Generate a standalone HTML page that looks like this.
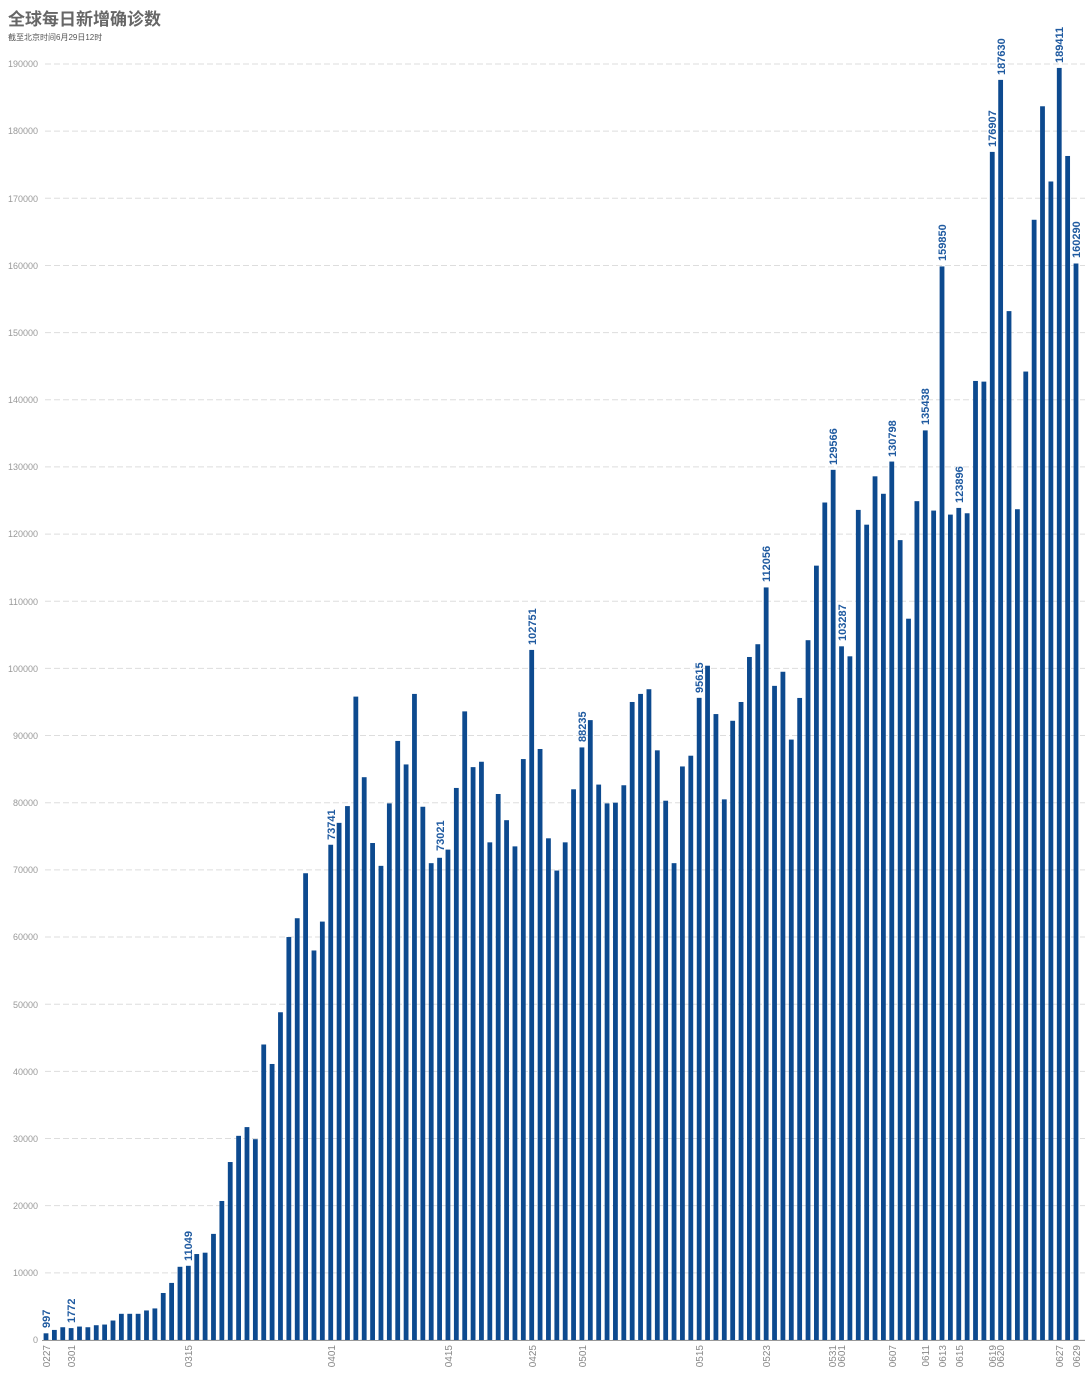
<!DOCTYPE html>
<html><head><meta charset="utf-8"><style>
body{margin:0;background:#fff;width:1090px;height:1389px;overflow:hidden;}
svg{display:block;font-family:"Liberation Sans","Noto Sans CJK SC",sans-serif;}
</style></head><body>
<svg id="c" width="1090" height="1389" xmlns="http://www.w3.org/2000/svg">
<text x="8" y="25" font-size="17" font-weight="bold" fill="#666">全球每日新增确诊数</text>
<text x="8" y="40" font-size="8" fill="#555">截至北京时间6月29日12时</text>
<g id="grid" font-size="9" fill="#999" text-anchor="end">
<text x="38" y="1343">0</text><text x="38" y="1276">10000</text><text x="38" y="1209">20000</text><text x="38" y="1142">30000</text><text x="38" y="1075">40000</text><text x="38" y="1008">50000</text><text x="38" y="940">60000</text><text x="38" y="873">70000</text><text x="38" y="806">80000</text><text x="38" y="739">90000</text><text x="38" y="672">100000</text><text x="38" y="605">110000</text><text x="38" y="537">120000</text><text x="38" y="470">130000</text><text x="38" y="403">140000</text><text x="38" y="336">150000</text><text x="38" y="269">160000</text><text x="38" y="202">170000</text><text x="38" y="134">180000</text><text x="38" y="67">190000</text>
</g>
<g id="bars"></g>
<line x1="42" y1="1340.5" x2="1085" y2="1340.5" stroke="#999" stroke-width="1"/>
<g font-size="10" fill="#888" text-anchor="end">
<text transform="translate(50,1345) rotate(-90)">0227</text>
<text transform="translate(75,1345) rotate(-90)">0301</text>
<text transform="translate(192,1345) rotate(-90)">0315</text>
<text transform="translate(335,1345) rotate(-90)">0401</text>
<text transform="translate(452,1345) rotate(-90)">0415</text>
<text transform="translate(536,1345) rotate(-90)">0425</text>
<text transform="translate(586,1345) rotate(-90)">0501</text>
<text transform="translate(703,1345) rotate(-90)">0515</text>
<text transform="translate(770,1345) rotate(-90)">0523</text>
<text transform="translate(836,1345) rotate(-90)">0531</text>
<text transform="translate(845,1345) rotate(-90)">0601</text>
<text transform="translate(896,1345) rotate(-90)">0607</text>
<text transform="translate(929,1345) rotate(-90)">0611</text>
<text transform="translate(946,1345) rotate(-90)">0613</text>
<text transform="translate(963,1345) rotate(-90)">0615</text>
<text transform="translate(996,1345) rotate(-90)">0619</text>
<text transform="translate(1004,1345) rotate(-90)">0620</text>
<text transform="translate(1063,1345) rotate(-90)">0627</text>
<text transform="translate(1080,1345) rotate(-90)">0629</text>
</g>
<g font-size="11" fill="#1f5aa0" font-weight="bold">
<text transform="translate(50,1328) rotate(-90)">997</text>
<text transform="translate(75,1323) rotate(-90)">1772</text>
<text transform="translate(192,1261) rotate(-90)">11049</text>
<text transform="translate(335,840) rotate(-90)">73741</text>
<text transform="translate(444,851) rotate(-90)">73021</text>
<text transform="translate(536,645) rotate(-90)">102751</text>
<text transform="translate(586,742) rotate(-90)">88235</text>
<text transform="translate(703,693) rotate(-90)">95615</text>
<text transform="translate(770,582) rotate(-90)">112056</text>
<text transform="translate(837,465) rotate(-90)">129566</text>
<text transform="translate(846,641) rotate(-90)">103287</text>
<text transform="translate(896,457) rotate(-90)">130798</text>
<text transform="translate(929,425) rotate(-90)">135438</text>
<text transform="translate(946,261) rotate(-90)">159850</text>
<text transform="translate(963,503) rotate(-90)">123896</text>
<text transform="translate(996,147) rotate(-90)">176907</text>
<text transform="translate(1005,75) rotate(-90)">187630</text>
<text transform="translate(1063,63) rotate(-90)">189411</text>
<text transform="translate(1080,258) rotate(-90)">160290</text>
</g>
</svg>
<script>
var v=[997,1500,1900,1772,2000,1900,2200,2300,2900,3900,3900,3900,4400,4700,7000,8500,10900,11049,12800,13000,15800,20700,26500,30400,31700,29900,44000,41100,48800,60000,62800,69500,58000,62300,
73741,77000,79500,95800,83800,74000,70600,79900,89200,85700,96200,79400,71000,71800,73021,82200,93600,85300,86100,74100,81300,77400,73500,86500,102751,88000,74700,69900,74100,82000,
88235,92300,82700,79900,80000,82600,95000,96200,96900,87800,80300,71000,85400,87000,95615,100400,93200,80500,92200,95000,101700,103600,112056,97400,99500,89400,95600,104200,115300,124700,129566,
103287,101800,123600,121400,128600,126000,130798,119100,107400,124900,135438,123500,159850,122900,123896,123100,142800,142700,176907,187630,153200,123700,144200,166800,183700,172500,189411,176300,160290];
var ns="http://www.w3.org/2000/svg",g=document.getElementById('bars'),s=0.006716;
for(var k=0;k<=19;k++){var l=document.createElementNS(ns,'line');var y=1340-k*10000*s;
l.setAttribute('x1',45);l.setAttribute('x2',1085);l.setAttribute('y1',y);l.setAttribute('y2',y);
l.setAttribute('stroke','#ddd');l.setAttribute('stroke-dasharray','6,3');g.appendChild(l);}
for(var i=0;i<v.length;i++){var r=document.createElementNS(ns,'rect');var h=v[i]*s;var x=46+i*8.374;
r.setAttribute('x',x-2.4);r.setAttribute('width',4.8);r.setAttribute('y',1340-h);r.setAttribute('height',h);
r.setAttribute('fill','#0d4a8f');g.appendChild(r);}
</script>
</body></html>
